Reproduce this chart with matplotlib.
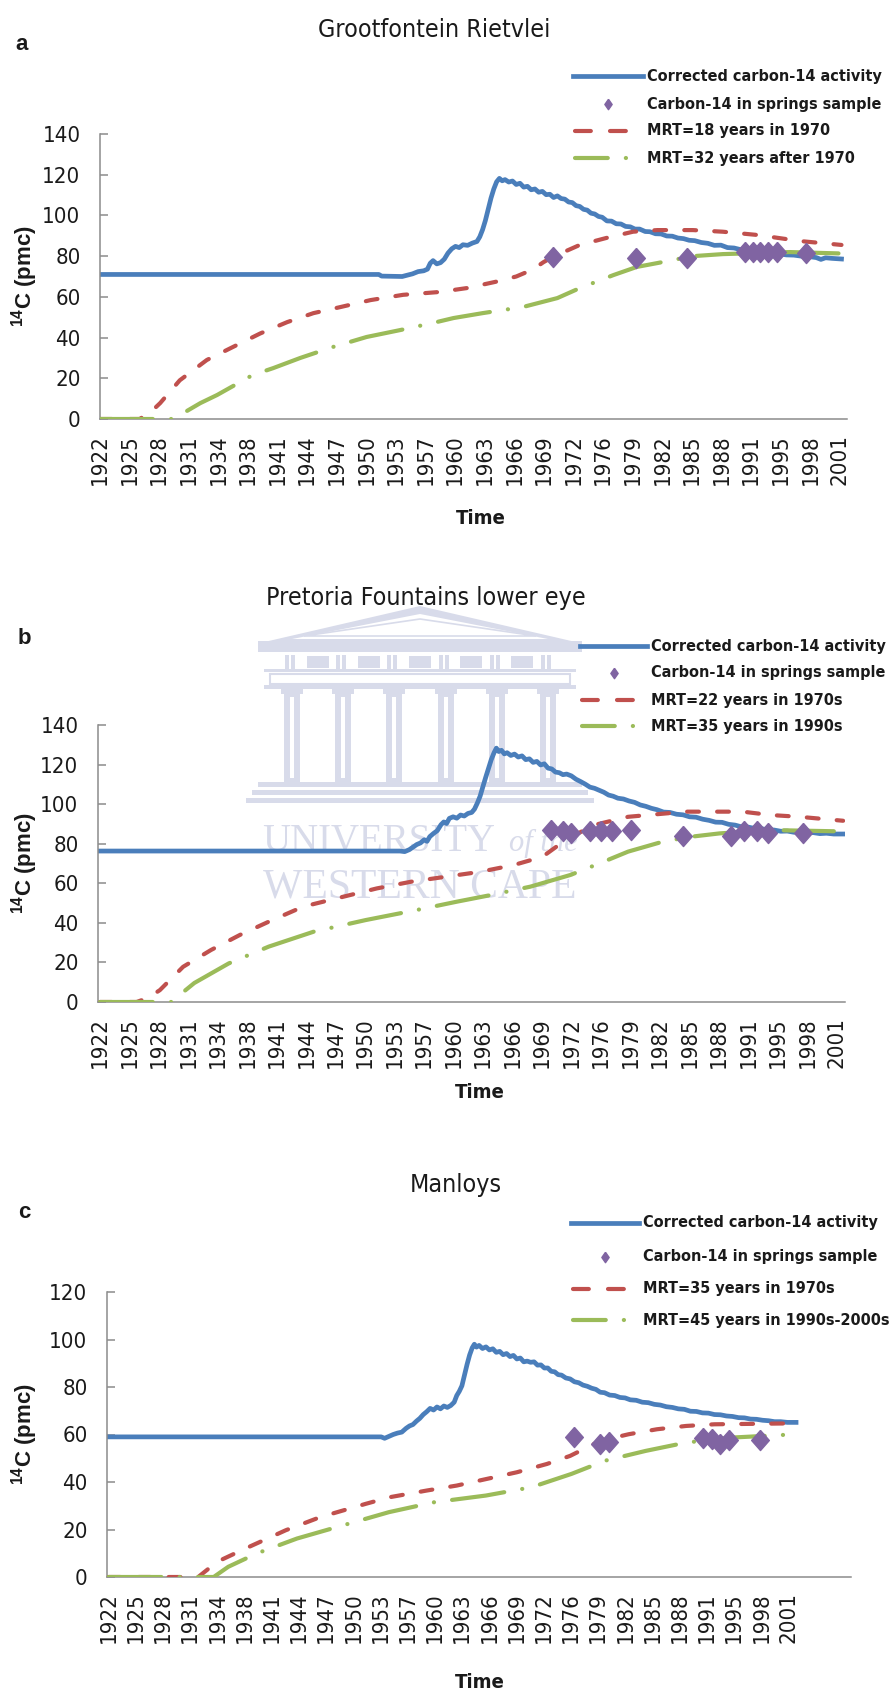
import matplotlib
matplotlib.use("Agg")
import matplotlib.pyplot as plt
from matplotlib import font_manager
from matplotlib.font_manager import FontProperties
from matplotlib.lines import Line2D
from matplotlib.patches import Polygon, Rectangle

plt.rcParams["lines.scale_dashes"] = False


def _weight(entry):
    w = entry.weight
    if isinstance(w, str):
        return 700 if "bold" in w.lower() else 400
    return int(w)


def find_face(bold):
    """Narrowest available sans face (condensed if installed), else a humanist sans."""
    entries = font_manager.fontManager.ttflist
    prefs = ["Liberation Sans Narrow", "DejaVu Sans", "Noto Sans", "Open Sans", "Roboto",
             "Lato", "Inter"]
    for name in prefs:
        for e in entries:
            if e.name != name or e.style != "normal":
                continue
            narrow = name == "Liberation Sans Narrow" or "condensed" in str(e.stretch)
            if narrow and (_weight(e) >= 600) == bold and "extra" not in str(e.stretch):
                return FontProperties(fname=e.fname)
    return FontProperties(family=["Lato", "Liberation Sans", "DejaVu Sans"],
                          weight="bold" if bold else "normal")


def first_font(*names):
    have = {f.name for f in font_manager.fontManager.ttflist}
    for n in names:
        if n in have:
            return n
    return "DejaVu Sans"


SANS = first_font("Liberation Sans", "DejaVu Sans")
SERIF = first_font("Liberation Serif", "DejaVu Serif")
NARROW_REG = find_face(False)
NARROW_BOLD = find_face(True)
plt.rcParams["mathtext.fontset"] = "custom"
plt.rcParams["mathtext.bf"] = SANS + ":bold"
plt.rcParams["mathtext.rm"] = SANS

W, H, DPI = 896, 1693, 100

# ---------------------------------------------------------------- data
# category labels of the time axis (one label every 38 months from Mar 1922)
TICK_LABELS = [1922, 1925, 1928, 1931, 1934, 1938, 1941, 1944, 1947, 1950,
               1953, 1957, 1960, 1963, 1966, 1969, 1972, 1976, 1979, 1982,
               1985, 1988, 1991, 1995, 1998, 2001]
FIRST_TICK = 1922 + 2 / 12
TICK_STEP = 38 / 12

LEGEND_COMMON = ["Corrected carbon-14 activity", "Carbon-14 in springs sample"]

# (a) Grootfontein Rietvlei
A_BLUE = [(1922.17, 71.0), (1952.0, 71.0), (1952.3, 70.2), (1954.5, 70.0), (1955.0, 70.6),
          (1955.6, 71.3), (1956.2, 72.4), (1956.8, 72.8), (1957.2, 73.6), (1957.5, 76.5),
          (1957.8, 77.8), (1958.2, 76.2), (1958.6, 76.8), (1959.0, 78.5), (1959.4, 81.5),
          (1959.8, 83.6), (1960.2, 84.8), (1960.6, 84.2), (1961.0, 85.6), (1961.5, 85.3),
          (1962.0, 86.4), (1962.5, 87.2), (1962.8, 89.5), (1963.1, 93.0), (1963.4, 97.5),
          (1963.7, 103.0), (1964.0, 108.5), (1964.3, 113.0), (1964.6, 116.5), (1964.9, 118.2),
          (1965.2, 117.0), (1965.5, 117.6), (1965.9, 116.4), (1966.3, 116.9), (1966.7, 115.2),
          (1967.1, 115.8), (1967.5, 113.9), (1967.9, 114.3), (1968.3, 112.6), (1968.7, 113.0),
          (1969.1, 111.4), (1969.5, 111.8), (1969.9, 110.2), (1970.3, 110.4), (1970.7, 108.8),
          (1971.1, 109.6), (1971.5, 108.3), (1971.9, 108.0), (1972.3, 106.6), (1972.7, 106.3),
          (1973.1, 104.8), (1973.5, 104.4), (1973.9, 103.0), (1974.3, 102.6), (1974.7, 101.1),
          (1975.1, 100.7), (1975.5, 99.5), (1975.9, 99.1), (1976.4, 97.3), (1976.9, 97.2),
          (1977.4, 95.9), (1977.9, 95.8), (1978.4, 94.6), (1978.9, 94.4), (1979.4, 93.3),
          (1979.9, 93.3), (1980.5, 92.1), (1981.0, 92.0), (1981.6, 91.0), (1982.2, 90.9),
          (1982.8, 89.9), (1983.4, 89.8), (1984.0, 88.9), (1984.6, 88.6), (1985.2, 87.8),
          (1985.8, 87.6), (1986.5, 86.7), (1987.2, 86.3), (1987.9, 85.3), (1988.6, 85.4),
          (1989.3, 84.2), (1990.0, 84.0), (1990.8, 83.1), (1991.6, 82.8), (1992.4, 82.2),
          (1993.2, 82.0), (1994.0, 81.4), (1994.8, 81.2), (1995.6, 80.6), (1996.4, 80.5),
          (1997.2, 80.0), (1998.0, 79.8), (1998.8, 79.3), (1999.3, 78.4), (1999.8, 79.2),
          (2000.5, 78.9), (2001.5, 78.6)]
A_RED = [(1922.17, 0), (1926.4, 0), (1927.5, 3.0), (1928.6, 7.8), (1930.7, 19.0),
         (1933.6, 29.0), (1936.4, 35.4), (1939.3, 42.0), (1942.2, 47.6), (1945.0, 52.0),
         (1947.9, 55.0), (1951.1, 58.4), (1954.6, 61.0), (1958.5, 62.4), (1961.4, 64.3),
         (1964.6, 67.5), (1966.7, 70.0), (1968.5, 73.5), (1969.6, 77.0), (1970.6, 79.6),
         (1973.5, 85.5), (1976.4, 89.0), (1979.2, 92.0), (1981.8, 92.8), (1985.6, 92.8),
         (1988.8, 92.0), (1992.5, 90.4), (1997.1, 87.4), (2001.5, 85.5)]
A_GREEN = [(1922.17, 0), (1930.0, 0), (1932.9, 7.8), (1934.7, 11.8), (1938.5, 21.6),
           (1940.7, 25.0), (1943.6, 30.0), (1947.1, 35.4), (1950.7, 40.3), (1954.3, 43.7),
           (1957.8, 47.2), (1960.0, 49.6), (1963.1, 52.0), (1967.4, 55.0), (1971.1, 59.4),
           (1973.5, 64.3), (1977.1, 70.7), (1979.6, 74.7), (1981.8, 76.6), (1985.6, 80.0),
           (1988.8, 81.0), (1996.0, 82.0), (2001.5, 81.3)]
A_SAMPLE_YEARS = [1970.6, 1979.5, 1985.0, 1991.2, 1992.0, 1992.8, 1993.6, 1994.6, 1997.7]
A_SAMPLE_PMC = [79.5, 79.0, 79.0, 82.2, 82.2, 82.2, 82.2, 82.2, 81.7]
A_LEGEND = LEGEND_COMMON + ["MRT=18 years in 1970", "MRT=32 years after 1970"]

# (b) Pretoria Fountains lower eye
B_BLUE = [(1922.17, 76.3), (1954.4, 76.3), (1954.9, 76.0), (1955.4, 77.0), (1955.8, 78.3),
          (1956.2, 79.6), (1956.6, 80.4), (1957.0, 82.0), (1957.3, 81.2), (1957.6, 83.6),
          (1958.0, 85.2), (1958.4, 86.6), (1958.8, 89.6), (1959.1, 91.0), (1959.4, 90.2),
          (1959.7, 92.8), (1960.1, 93.6), (1960.5, 92.9), (1960.9, 94.5), (1961.3, 94.0),
          (1961.7, 95.3), (1962.1, 95.8), (1962.4, 97.5), (1962.7, 100.5), (1963.0, 104.0),
          (1963.3, 108.8), (1963.6, 113.5), (1963.9, 118.0), (1964.2, 122.5), (1964.5, 126.0),
          (1964.75, 128.3), (1965.0, 126.6), (1965.3, 127.2), (1965.6, 125.4), (1965.9, 126.0),
          (1966.3, 124.6), (1966.7, 125.3), (1967.1, 123.8), (1967.5, 124.4), (1967.9, 122.5),
          (1968.3, 122.9), (1968.7, 121.1), (1969.1, 121.6), (1969.5, 119.8), (1969.9, 120.4),
          (1970.3, 118.2), (1970.7, 117.8), (1971.1, 116.2), (1971.5, 115.9), (1971.9, 114.9),
          (1972.3, 115.2), (1972.8, 114.3), (1973.3, 112.6), (1973.8, 111.4), (1974.3, 110.1),
          (1974.8, 108.6), (1975.3, 108.0), (1975.8, 107.0), (1976.3, 106.0), (1976.8, 104.6),
          (1977.3, 104.0), (1977.8, 103.0), (1978.4, 102.6), (1979.0, 101.6), (1979.6, 100.9),
          (1980.2, 99.6), (1980.8, 98.9), (1981.4, 97.9), (1982.0, 97.2), (1982.7, 96.0),
          (1983.4, 95.8), (1984.1, 94.9), (1984.8, 94.6), (1985.5, 93.6), (1986.2, 93.4),
          (1986.9, 92.4), (1987.6, 91.8), (1988.3, 90.9), (1989.0, 90.8), (1989.7, 89.8),
          (1990.4, 89.4), (1991.1, 88.5), (1991.8, 88.4), (1992.5, 87.7), (1993.2, 87.6),
          (1993.9, 87.0), (1994.6, 86.9), (1995.3, 86.3), (1996.0, 86.4), (1996.7, 85.8),
          (1997.4, 86.0), (1998.1, 85.5), (1998.8, 85.6), (1999.5, 85.1), (2000.2, 85.3),
          (2001.0, 84.9), (2002.0, 84.9)]
B_RED = [(1922.17, 0), (1926.1, 0), (1927.3, 2.0), (1928.6, 6.0), (1931.1, 17.8),
         (1934.1, 26.3), (1937.2, 33.9), (1940.3, 40.6), (1944.0, 48.2), (1948.3, 53.2),
         (1951.9, 57.4), (1955.6, 60.8), (1959.3, 63.3), (1963.0, 65.8), (1966.6, 69.2),
         (1969.7, 73.4), (1972.2, 81.9), (1975.2, 89.4), (1978.9, 93.6), (1985.1, 96.2),
         (1991.2, 96.2), (1994.2, 94.5), (1997.3, 93.6), (2002.0, 91.6)]
B_GREEN = [(1922.17, 0), (1929.8, 0), (1932.3, 9.6), (1936.0, 19.5), (1940.3, 28.0),
           (1945.1, 35.5), (1950.7, 41.4), (1956.2, 46.5), (1960.5, 50.7), (1964.1, 54.0),
           (1968.4, 58.3), (1972.7, 64.2), (1975.8, 70.0), (1978.9, 76.0), (1982.6, 81.0),
           (1985.6, 83.5), (1988.7, 85.2), (1994.2, 86.9), (2001.0, 86.3)]
B_SAMPLE_YEARS = [1970.6, 1971.9, 1972.8, 1974.8, 1976.0, 1977.2, 1979.2, 1984.8, 1990.0,
                  1991.4, 1992.7, 1993.9, 1997.7]
B_SAMPLE_PMC = [87.0, 86.5, 85.5, 86.5, 86.5, 86.5, 87.0, 84.0, 84.0, 86.5, 86.5, 85.5, 85.5]
B_LEGEND = LEGEND_COMMON + ["MRT=22 years in 1970s", "MRT=35 years in 1990s"]

# (c) Manloys
C_BLUE = [(1922.17, 59.0), (1953.9, 59.0), (1954.3, 58.4), (1954.8, 59.2), (1955.3, 60.0),
          (1955.8, 60.6), (1956.3, 61.0), (1956.8, 62.6), (1957.2, 63.6), (1957.6, 64.2),
          (1958.0, 65.6), (1958.4, 66.8), (1958.8, 68.4), (1959.2, 69.6), (1959.6, 71.0),
          (1960.0, 70.3), (1960.4, 71.6), (1960.8, 70.8), (1961.2, 72.0), (1961.6, 71.4),
          (1962.0, 72.2), (1962.4, 73.6), (1962.7, 76.4), (1963.0, 78.2), (1963.3, 80.5),
          (1963.6, 85.0), (1963.9, 89.5), (1964.2, 93.5), (1964.5, 96.5), (1964.75, 98.0),
          (1965.0, 96.8), (1965.3, 97.5), (1965.7, 96.2), (1966.1, 96.9), (1966.5, 95.6),
          (1966.9, 96.1), (1967.3, 94.6), (1967.7, 95.0), (1968.1, 93.6), (1968.5, 94.1),
          (1968.9, 92.8), (1969.3, 93.3), (1969.7, 91.8), (1970.1, 92.2), (1970.5, 90.6),
          (1970.9, 90.9), (1971.3, 90.4), (1971.7, 90.6), (1972.1, 89.2), (1972.5, 89.3),
          (1972.9, 88.0), (1973.3, 88.0), (1973.7, 86.6), (1974.1, 86.4), (1974.5, 85.2),
          (1974.9, 85.0), (1975.4, 83.8), (1975.9, 83.4), (1976.4, 82.2), (1976.9, 81.8),
          (1977.4, 80.8), (1977.9, 80.3), (1978.4, 79.5), (1978.9, 79.0), (1979.4, 77.8),
          (1979.9, 77.6), (1980.5, 76.6), (1981.1, 76.4), (1981.7, 75.6), (1982.3, 75.4),
          (1982.9, 74.6), (1983.6, 74.4), (1984.3, 73.6), (1985.0, 73.4), (1985.7, 72.7),
          (1986.4, 72.4), (1987.1, 71.7), (1987.8, 71.4), (1988.5, 70.8), (1989.2, 70.6),
          (1989.9, 69.8), (1990.6, 69.7), (1991.3, 69.1), (1992.0, 69.0), (1992.7, 68.4),
          (1993.4, 68.3), (1994.1, 67.8), (1994.8, 67.6), (1995.5, 67.1), (1996.2, 67.0),
          (1996.9, 66.5), (1997.6, 66.4), (1998.3, 66.0), (1999.0, 65.8), (1999.7, 65.4),
          (2000.4, 65.4), (2001.2, 65.1), (2002.2, 65.1)]
C_RED = [(1922.17, 0), (1932.6, 0), (1934.8, 6.4), (1938.1, 12.0), (1942.8, 19.7),
         (1946.8, 25.2), (1952.1, 30.8), (1954.9, 33.6), (1959.2, 36.4), (1962.7, 38.5),
         (1966.2, 41.3), (1969.7, 44.1), (1973.2, 47.6), (1975.9, 51.0), (1979.4, 57.3),
         (1982.7, 60.1), (1986.0, 62.2), (1989.4, 63.6), (1992.7, 64.3), (2002.2, 64.7)]
C_GREEN = [(1922.17, 0), (1934.4, 0), (1936.1, 4.3), (1939.4, 9.9), (1944.1, 16.2),
           (1949.5, 21.8), (1954.8, 27.3), (1960.1, 31.5), (1966.1, 34.3), (1971.4, 37.8),
           (1976.05, 43.4), (1980.0, 49.0), (1984.7, 53.1), (1989.4, 56.6), (1994.7, 58.7),
           (2002.2, 60.1)]
C_SAMPLE_YEARS = [1976.3, 1979.4, 1980.4, 1991.4, 1992.4, 1993.4, 1994.4, 1998.0]
C_SAMPLE_PMC = [58.9, 55.8, 56.8, 58.5, 58.2, 56.1, 57.5, 57.5]
C_LEGEND = LEGEND_COMMON + ["MRT=35 years in 1970s", "MRT=45 years in 1990s-2000s"]

# ---------------------------------------------------------------- styling
BLUE, RED, GREEN, PURPLE = "#4A7EBB", "#C0504D", "#9BBB59", "#8064A2"
AXIS_GREY = "#8C8C8C"
TEXT = "#1A1A1A"
WM = "#D8DBEA"
LW = 3.0
BLUE_LW = 3.4
RED_DASH = (0, (8.5, 13.1))
GREEN_DASH = (0, (38.0, 13.1, 0.1, 13.1))
LEG_RED_DASH = (0, (11.4, 13.8))
LEG_GREEN_DASH = (0, (23.6, 13.0, 0.1, 40))
DIAMOND = [(0, 1), (0.88, 0), (0, -1), (-0.88, 0), (0, 1)]
LEG_DIAMOND = [(0, 1), (0.7, 0), (0, -1), (-0.7, 0), (0, 1)]

fig = plt.figure(figsize=(W / DPI, H / DPI), dpi=DPI)
fig.patch.set_facecolor("white")
renderer = fig.canvas.get_renderer()


def text_width(fp, text, size=20):
    probe = fp.copy()
    probe.set_size(size)
    t = fig.text(0, 0, text, fontproperties=probe)
    w = t.get_window_extent(renderer=renderer).width
    t.remove()
    return w


def fitted(fp, texts, target_px):
    """Copy of fp sized so that the widest of texts is target_px wide."""
    widest = max(text_width(fp, s) for s in texts)
    out = fp.copy()
    out.set_size(20 * target_px / widest)
    return out


TICK_FP = fitted(NARROW_REG, ["140"], 38)
TITLE_FP = fitted(NARROW_REG, ["Grootfontein Rietvlei"], 232)
LEGEND_FP = fitted(NARROW_BOLD, ["Corrected carbon-14 activity", "MRT=45 years in 1990s-2000s"],
                   246)
TIME_FP = fitted(NARROW_BOLD, ["Time"], 50)


def unzip(points):
    return [p[0] for p in points], [p[1] for p in points]


def pixel_axes(z):
    ax = fig.add_axes([0, 0, 1, 1], zorder=z)
    ax.set_xlim(0, W)
    ax.set_ylim(H, 0)
    ax.axis("off")
    return ax


# faint university emblem behind panel (b)
wm = pixel_axes(0)
CX = 420
wm.add_patch(Polygon([(CX - 160, 643), (CX, 606), (CX + 160, 643)], closed=True, fc=WM,
                     ec="none"))
wm.add_patch(Polygon([(CX - 128, 639), (CX, 614), (CX + 128, 639)], closed=True, fc="white",
                     ec="none"))
wm.add_patch(Polygon([(CX - 116, 636), (CX, 619), (CX + 116, 636)], closed=True, fc="none",
                     ec=WM, lw=1.2))
wm.add_patch(Rectangle((CX - 162, 641), 324, 11, fc=WM, ec="none"))
cols = [CX - 128 + 51.2 * i for i in range(6)]
for i, cx in enumerate(cols):
    wm.add_patch(Rectangle((cx - 7, 655), 4, 14, fc=WM, ec="none"))
    wm.add_patch(Rectangle((cx - 1, 655), 4, 14, fc=WM, ec="none"))
    if i < len(cols) - 1:
        mx = (cx + cols[i + 1]) / 2
        wm.add_patch(Rectangle((mx - 11, 656), 22, 12, fc=WM, ec="none"))
    wm.add_patch(Rectangle((cx - 8, 693), 16, 89, fc=WM, ec="none"))
    wm.add_patch(Rectangle((cx - 2, 697), 4, 81, fc="white", ec="none"))
    wm.add_patch(Rectangle((cx - 11, 688), 22, 6, fc=WM, ec="none"))
wm.add_patch(Rectangle((CX - 156, 669), 312, 3, fc=WM, ec="none"))
wm.add_patch(Rectangle((CX - 150, 674), 300, 10, fc="none", ec=WM, lw=1.5))
wm.add_patch(Rectangle((CX - 156, 685), 312, 4, fc=WM, ec="none"))
wm.add_patch(Rectangle((CX - 162, 782), 324, 5, fc=WM, ec="none"))
wm.add_patch(Rectangle((CX - 168, 790), 336, 5, fc=WM, ec="none"))
wm.add_patch(Rectangle((CX - 174, 798), 348, 5, fc=WM, ec="none"))
wm.text(CX - 158, 851, "UNIVERSITY", family=SERIF, fontsize=28, color=WM, ha="left",
        va="baseline")
wm.text(CX + 158, 851, "of the", family=SERIF, style="italic", fontsize=22, color=WM,
        ha="right", va="baseline")
wm.text(CX, 897, "WESTERN CAPE", family=SERIF, fontsize=30, color=WM, ha="center",
        va="baseline")

# overlay for titles, legends and axis captions (pixel coordinates)
top = pixel_axes(5)


def legend_rows(labels, rows_y, x0, x1, text_x):
    xc = (x0 + x1) / 2
    top.add_line(Line2D([x0, x1], [rows_y[0]] * 2, color=BLUE, lw=BLUE_LW))
    top.add_line(Line2D([xc], [rows_y[1]], linestyle="none", marker=LEG_DIAMOND, ms=7.5,
                        color=PURPLE))
    top.add_line(Line2D([x0 + 2, x1], [rows_y[2]] * 2, color=RED, lw=LW, linestyle=LEG_RED_DASH,
                        dash_capstyle="round"))
    top.add_line(Line2D([x0 + 2, x1], [rows_y[3]] * 2, color=GREEN, lw=LW,
                        linestyle=LEG_GREEN_DASH, dash_capstyle="round"))
    for lab, y in zip(labels, rows_y):
        top.text(text_x, y, lab, fontproperties=LEGEND_FP, color=TEXT, ha="left", va="center")


def panel(rect, xlim, ylim, yticks, blue, red, green, s_years, s_pmc, legend_labels,
          title, title_xy, letter, letter_xy, rows_y, handle_x, time_xy):
    l, t, r, b = rect
    ax = fig.add_axes([l / W, 1 - b / H, (r - l) / W, (b - t) / H], zorder=1)
    ax.set_facecolor("none")
    ax.set_xlim(*xlim)
    ax.set_ylim(*ylim)
    for s in ("top", "right"):
        ax.spines[s].set_visible(False)
    for s in ("left", "bottom"):
        ax.spines[s].set_color(AXIS_GREY)
        ax.spines[s].set_linewidth(1.1)

    ax.plot(*unzip(blue), color=BLUE, lw=BLUE_LW, solid_joinstyle="round", zorder=2)
    ax.plot(*unzip(red), color=RED, lw=LW, linestyle=RED_DASH, dash_capstyle="round", zorder=3)
    ax.plot(*unzip(green), color=GREEN, lw=LW, linestyle=GREEN_DASH, dash_capstyle="round",
            zorder=3)
    ax.plot(s_years, s_pmc, linestyle="none", marker=DIAMOND, ms=14.5, color=PURPLE,
            mec=PURPLE, zorder=4)

    ax.set_yticks(yticks)
    ax.set_yticklabels([str(v) for v in yticks])
    ax.tick_params(axis="y", direction="in", length=6, width=1.1, color=AXIS_GREY,
                   pad=14, labelcolor=TEXT)
    ax.set_xticks([FIRST_TICK + i * TICK_STEP for i in range(len(TICK_LABELS))])
    ax.set_xticklabels([str(v) for v in TICK_LABELS], rotation=90)
    ax.tick_params(axis="x", length=0, pad=11, labelcolor=TEXT)
    for lab in ax.get_xticklabels() + ax.get_yticklabels():
        lab.set_fontproperties(TICK_FP)

    legend_rows(legend_labels, rows_y, handle_x[0], handle_x[1], handle_x[2])
    top.text(*title_xy, title, ha="center", va="center", fontproperties=TITLE_FP, color=TEXT)
    top.text(*letter_xy, letter, ha="center", va="center", fontsize=16, fontweight="bold",
             color=TEXT, family=SANS)
    top.text(*time_xy, "Time", ha="center", va="center", fontproperties=TIME_FP, color=TEXT)
    top.text(25, (t + b) / 2, r"$^{\mathbf{14}}$" + "C (pmc)", rotation=90, ha="center",
             va="center", fontsize=16, fontweight="bold", color=TEXT, family=SANS)
    return ax


panel((100, 134, 847, 419), (1922.17, 2002.09), (0, 140), list(range(0, 141, 20)),
      A_BLUE, A_RED, A_GREEN, A_SAMPLE_YEARS, A_SAMPLE_PMC, A_LEGEND,
      "Grootfontein Rietvlei", (434, 30), "a", (22, 45), [76, 104, 131, 158],
      (573, 643, 647), (481, 518))
panel((98, 725, 845, 1002), (1921.955, 2002.2), (0, 140), list(range(0, 141, 20)),
      B_BLUE, B_RED, B_GREEN, B_SAMPLE_YEARS, B_SAMPLE_PMC, B_LEGEND,
      "Pretoria Fountains lower eye", (426, 598), "b", (24, 638), [646, 673, 700, 726],
      (580, 647, 651), (480, 1093))
panel((107, 1292, 851, 1577), (1921.98, 2008.6), (0, 120), list(range(0, 121, 20)),
      C_BLUE, C_RED, C_GREEN, C_SAMPLE_YEARS, C_SAMPLE_PMC, C_LEGEND,
      "Manloys", (456, 1185), "c", (24, 1213), [1223, 1257, 1289, 1320],
      (571, 639, 643), (480, 1683))

fig.savefig("out.png", dpi=DPI, facecolor="white")
